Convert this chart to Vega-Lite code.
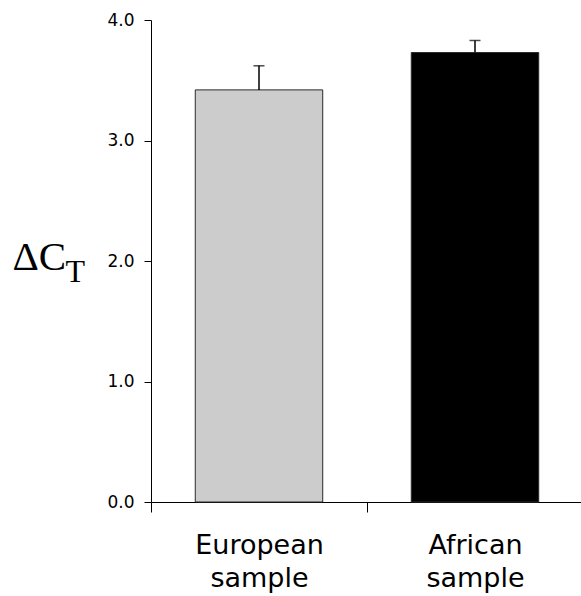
{
  "$schema": "https://vega.github.io/schema/vega-lite/v6.json",
  "autosize": "none",
  "padding": {"left": 151, "top": 20, "right": 0, "bottom": 94},
  "width": 430,
  "height": 482,
  "background": "white",
  "config": {
    "view": {"stroke": null},
    "axis": {
      "domainColor": "black",
      "tickColor": "black",
      "labelColor": "black",
      "titleColor": "black",
      "grid": false
    }
  },
  "data": {
    "values": [
      {"sample": "European sample", "mean": 3.42, "upper": 3.62},
      {"sample": "African sample", "mean": 3.73, "upper": 3.83}
    ]
  },
  "encoding": {
    "x": {
      "field": "sample",
      "type": "nominal",
      "sort": null,
      "scale": {"paddingInner": 0, "paddingOuter": 0, "range": [0, 432]},
      "axis": {
        "title": null,
        "tickBand": "extent",
        "tickSize": 10,
        "tickWidth": 1,
        "domainWidth": 1,
        "labelAngle": 0,
        "labelFont": "DejaVu Sans",
        "labelFontSize": 27,
        "labelLineHeight": 33,
        "labelPadding": 20,
        "labelExpr": "split(datum.label, ' ')"
      }
    }
  },
  "layer": [
    {
      "mark": {"type": "bar", "width": {"band": 0.59}, "stroke": "#2a2a2a", "strokeWidth": 1},
      "encoding": {
        "y": {
          "field": "mean",
          "type": "quantitative",
          "scale": {"domain": [0, 4]},
          "axis": {
            "title": "ΔC",
            "titleFont": "Liberation Serif",
            "titleFontSize": 41,
            "titleFontWeight": "normal",
            "titleAngle": 0,
            "titleAlign": "left",
            "titleBaseline": "alphabetic",
            "titleX": -139,
            "titleY": 249,
            "values": [0, 1, 2, 3, 4],
            "format": ".1f",
            "tickSize": 7,
            "tickWidth": 1,
            "domainWidth": 1,
            "labelFont": "DejaVu Sans",
            "labelFontSize": 17,
            "labelPadding": 10
          }
        },
        "color": {
          "field": "sample",
          "type": "nominal",
          "sort": null,
          "scale": {"range": ["#cccccc", "#000000"]},
          "legend": null
        }
      }
    },
    {
      "mark": {"type": "rule", "color": "black", "strokeWidth": 1.5},
      "encoding": {
        "y": {
          "field": "upper",
          "type": "quantitative",
          "scale": {"domain": [0, 4]},
          "axis": {
            "orient": "left",
            "title": "T",
            "titleFont": "Liberation Serif",
            "titleFontSize": 32,
            "titleFontWeight": "normal",
            "titleAngle": 0,
            "titleAlign": "left",
            "titleBaseline": "alphabetic",
            "titleX": -86,
            "titleY": 261,
            "domain": false,
            "ticks": false,
            "labels": false
          }
        },
        "y2": {"field": "mean"}
      }
    },
    {
      "mark": {"type": "tick", "color": "black", "thickness": 1.5, "size": 11},
      "encoding": {
        "y": {
          "field": "upper",
          "type": "quantitative",
          "scale": {"domain": [0, 4]},
          "axis": null
        }
      }
    }
  ],
  "resolve": {"axis": {"y": "independent"}}
}
